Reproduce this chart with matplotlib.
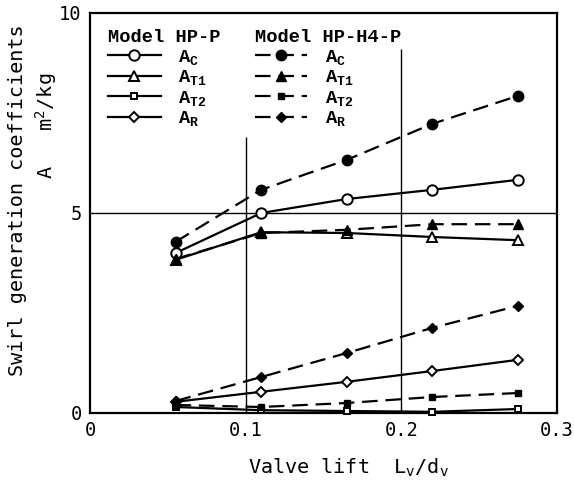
import matplotlib
matplotlib.use("Agg")
import matplotlib.pyplot as plt

plt.rcParams['font.family'] = 'DejaVu Sans Mono'
plt.rcParams['mathtext.fontset'] = 'custom'
plt.rcParams['mathtext.rm'] = 'DejaVu Sans Mono'
plt.rcParams['mathtext.bf'] = 'Liberation Mono:bold'

# valve lift L_v/d_v
lift = [0.055, 0.11, 0.165, 0.22, 0.275]

# model HP-P
hp_ac = [4.0, 5.0, 5.35, 5.58, 5.83]
hp_at1 = [3.83, 4.52, 4.5, 4.4, 4.32]
hp_at2 = [0.15, 0.07, 0.05, 0.03, 0.1]
hp_ar = [0.28, 0.53, 0.78, 1.05, 1.33]

# model HP-H4-P
h4_ac = [4.28, 5.58, 6.33, 7.23, 7.93]
h4_at1 = [3.85, 4.5, 4.58, 4.72, 4.72]
h4_at2 = [0.2, 0.15, 0.25, 0.4, 0.5]
h4_ar = [0.3, 0.9, 1.5, 2.13, 2.68]

names = [r'$\mathbf{A_{C}}$', r'$\mathbf{A_{T1}}$', r'$\mathbf{A_{T2}}$', r'$\mathbf{A_{R}}$']
markers = ['o', '^', 's', 'D']
msizes = [7.5, 6.5, 5, 5.5]

fig = plt.figure(figsize=(5.74, 4.84), dpi=100)
ax = fig.add_axes([90/574, 1-413/484, 467/574, 400/484])

# reference lines, broken where the key sits
ax.axhline(5, color='black', lw=1.0)
ax.vlines(0.1, 0, 6.9, color='black', lw=1.0)
ax.vlines(0.2, 0, 9.1, color='black', lw=1.0)

hp_handles = []
h4_handles = []
for i, (ys, m) in enumerate(zip([hp_ac, hp_at1, hp_at2, hp_ar], markers)):
    ln, = ax.plot(lift, ys, '-', color='black', lw=1.6, marker=m, ms=msizes[i],
                  mfc='white', mec='black', mew=1.4, clip_on=False, zorder=3)
    hp_handles.append(ln)
for i, (ys, m) in enumerate(zip([h4_ac, h4_at1, h4_at2, h4_ar], markers)):
    ln, = ax.plot(lift, ys, color='black', lw=1.6, dashes=(7, 3.5), marker=m,
                  ms=msizes[i], mfc='black', mec='black', clip_on=False, zorder=3)
    h4_handles.append(ln)

ax.set_xlim(0, 0.3)
ax.set_ylim(0, 10)
ax.set_xticks([0, 0.1, 0.2, 0.3])
ax.set_xticklabels(['0', '0.1', '0.2', '0.3'])
ax.set_yticks([0, 5, 10])
ax.tick_params(length=0, labelsize=13.5, pad=6)
for s in ax.spines.values():
    s.set_linewidth(1.6)

# key: two columns with headers
hdr = dict(family='Liberation Mono', weight='bold', fontsize=13.5, va='center',
           transform=ax.transAxes)
ax.text(18/467, (413-37)/400, 'Model HP-P', ha='left', **hdr)
ax.text(165/467, (413-37)/400, 'Model HP-H4-P', ha='left', **hdr)

leg = ax.legend(hp_handles + h4_handles, names + names, ncol=2, frameon=False,
                loc='upper left', bbox_to_anchor=(18/467, (413-47)/400),
                borderaxespad=0, borderpad=0, handlelength=2.8,
                handletextpad=0.95, columnspacing=2.55, labelspacing=0.02,
                fontsize=13.5)

fig.text(18/574, 1-200/484, 'Swirl generation coefficients', rotation=90,
         ha='center', va='center', fontsize=14.5)
fig.text(46/574, 1-126/484, r'A   m$^{2}$/kg', rotation=90,
         ha='center', va='center', fontsize=14.5)
fig.text(348/574, 1-468/484, r'Valve lift  L$_{\mathrm{v}}$/d$_{\mathrm{v}}$',
         ha='center', va='center', fontsize=14.5)

fig.savefig('out.png', dpi=100)
